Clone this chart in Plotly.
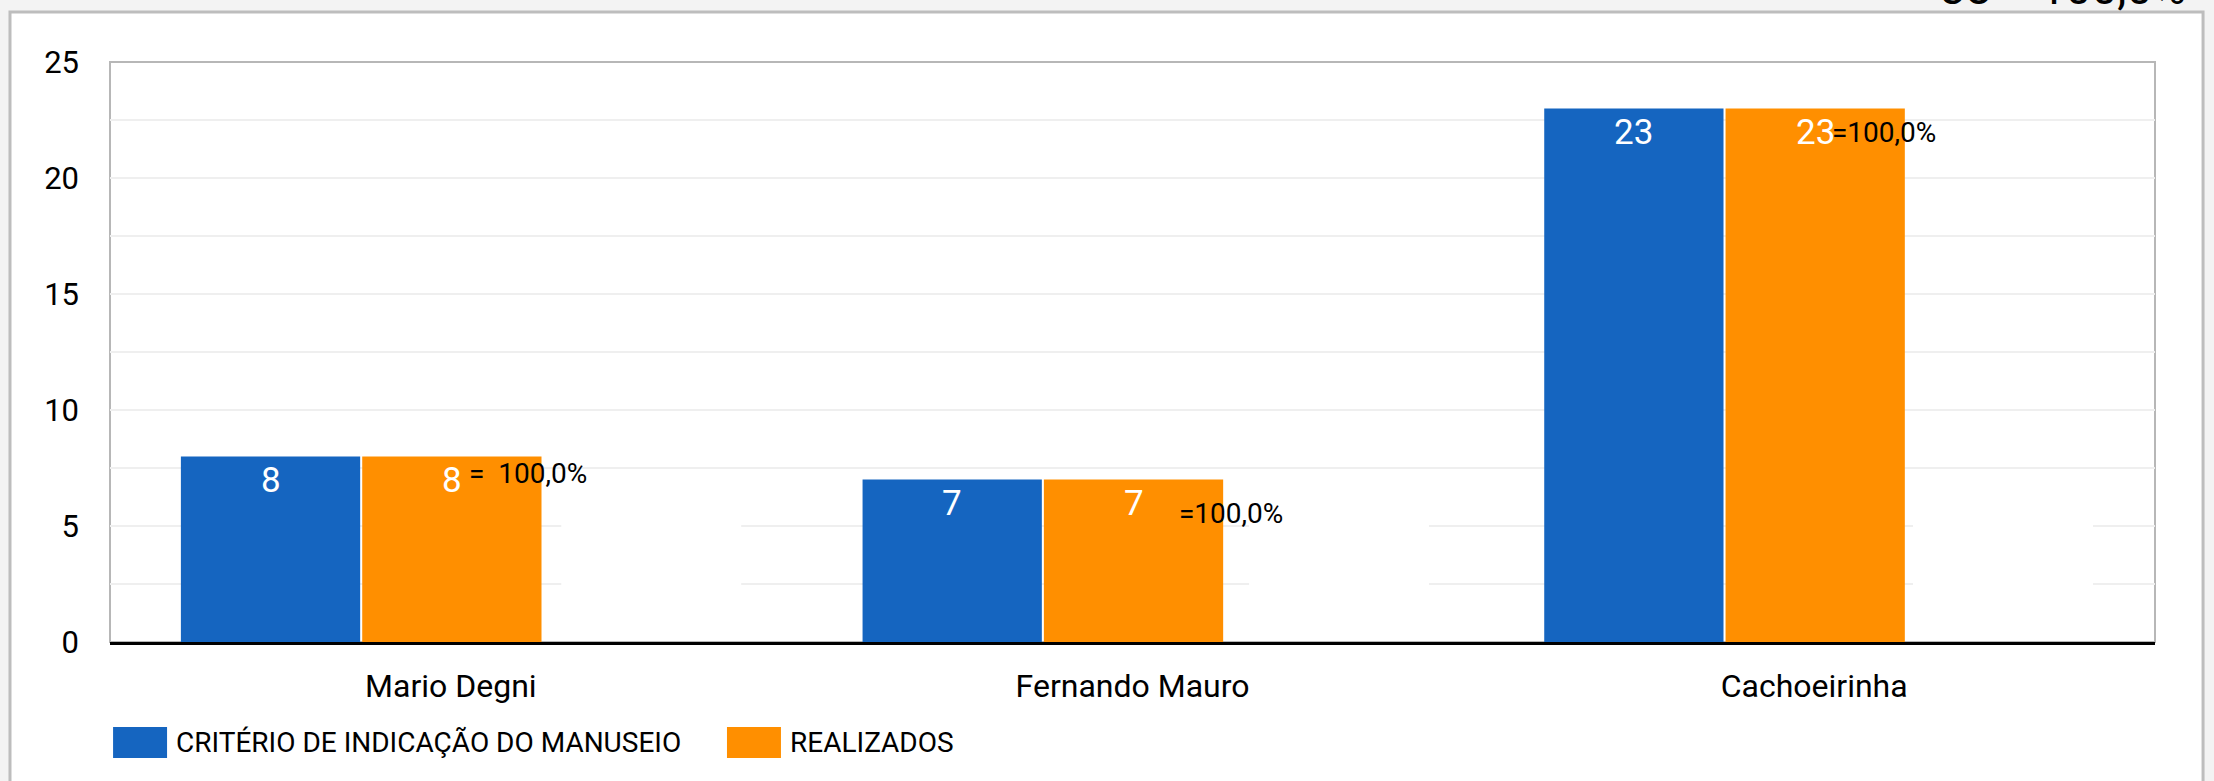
import plotly.graph_objects as go

# ---- data ----
categories = ["Mario Degni", "Fernando Mauro", "Cachoeirinha"]
series_names = ["CRITÉRIO DE INDICAÇÃO DO MANUSEIO", "REALIZADOS"]
criterio = [8, 7, 23]
realizados = [8, 7, 23]
y_ticks = [0, 5, 10, 15, 20, 25]

# ---- styles ----
colors = ["#1565c0", "#ff8f00"]
bar_width = 0.263
bar_offsets = [-0.396, -0.130]
pct_prefix = ["=  ", "=", "="]
pct_dx = [0.024, 0.065, 0.023]
pct_dy = [-0.72, -1.44, -1.06]
FONT = "Roboto"

pct_labels = []
for c, r in zip(criterio, realizados):
    pct = r / c * 100 if c else 0
    pct_labels.append(f"{pct:.1f}%".replace(".", ","))

fig = go.Figure()
for name, vals, col, off in zip(series_names, [criterio, realizados], colors, bar_offsets):
    fig.add_trace(go.Bar(
        x=list(range(len(categories))), y=vals, name=name,
        marker=dict(color=col, line=dict(width=0)),
        width=bar_width, offset=off, showlegend=False, hoverinfo="skip",
    ))

annotations = []
# value labels inside bars (white)
for vals, off in zip([criterio, realizados], bar_offsets):
    for j, v in enumerate(vals):
        annotations.append(dict(
            x=j + off + bar_width / 2, y=v, xref="x", yref="y",
            text=str(v), showarrow=False, yanchor="middle", xanchor="center",
            yshift=-24, font=dict(family=FONT, size=35, color="white"),
        ))
# percentage labels (black)
for j, lab in enumerate(pct_labels):
    annotations.append(dict(
        x=j + pct_dx[j], y=realizados[j] + pct_dy[j], xref="x", yref="y",
        text=pct_prefix[j] + lab, showarrow=False, xanchor="left", yanchor="middle",
        font=dict(family=FONT, size=28, color="black"),
    ))
# legend (custom)
leg_x = [0.0015, 0.3017]
for name, col, lx in zip(series_names, colors, leg_x):
    annotations.append(dict(
        x=lx + 0.0299, y=-0.174, xref="paper", yref="paper", text=name,
        showarrow=False, xanchor="left", yanchor="middle",
        font=dict(family=FONT, size=28, color="black"),
    ))
# cut-off text at top right from chart above
annotations.append(dict(
    x=0.894, y=1.077, xref="paper", yref="paper", text="38 = 100,0%",
    showarrow=False, xanchor="left", yanchor="bottom",
    font=dict(family=FONT, size=46, color="black"),
))

shapes = [
    # card
    dict(type="rect", xref="paper", yref="paper", x0=-0.0489, x1=1.0235, y0=-0.5, y1=1.0862,
         fillcolor="white", line=dict(color="#bdbdbd", width=3), layer="below"),
    # plot frame
    dict(type="rect", xref="paper", yref="paper", x0=0, x1=1, y0=0, y1=1,
         fillcolor="rgba(0,0,0,0)", line=dict(color="#b7b7b7", width=2), layer="below"),
]
# white boxes hiding gridlines
for xc in [0.294, 1.303, 2.277]:
    shapes.append(dict(type="rect", xref="x", yref="y", x0=xc - 0.132, x1=xc + 0.132,
                       y0=0.1, y1=6.2, fillcolor="white", line=dict(width=0), layer="between"))
for col, lx in zip(colors, leg_x):
    shapes.append(dict(type="rect", xref="paper", yref="paper", x0=lx, x1=lx + 0.0264,
                       y0=-0.2, y1=-0.1466, fillcolor=col, line=dict(width=0)))

fig.update_layout(
    width=2214, height=781,
    margin=dict(l=110, r=59, t=62, b=139),
    paper_bgcolor="#f3f3f3", plot_bgcolor="white",
    font=dict(family=FONT, color="black"),
    barmode="overlay",
    showlegend=False,
    annotations=annotations, shapes=shapes,
    xaxis=dict(
        range=[-0.5, 2.5], tickmode="array", tickvals=list(range(len(categories))),
        ticktext=categories, showgrid=False, zeroline=False,
        showline=True, linecolor="black", linewidth=3,
        ticks="outside", ticklen=14, tickcolor="rgba(0,0,0,0)",
        tickfont=dict(family=FONT, size=32, color="black"),
    ),
    yaxis=dict(
        range=[0, 25], tickvals=y_ticks, showgrid=True, gridcolor="#efefef", gridwidth=2,
        zeroline=False, showline=False, ticks="", ticklabelstandoff=30,
        tickfont=dict(family=FONT, size=31, color="black"),
        minor=dict(dtick=2.5, showgrid=True, gridcolor="#efefef", gridwidth=2),
    ),
)

fig.write_html(
    "out.html",
    config={"displayModeBar": False},
    post_script="document.body.style.margin='0';document.body.style.background='#f3f3f3';document.body.style.overflow='hidden';",
)
